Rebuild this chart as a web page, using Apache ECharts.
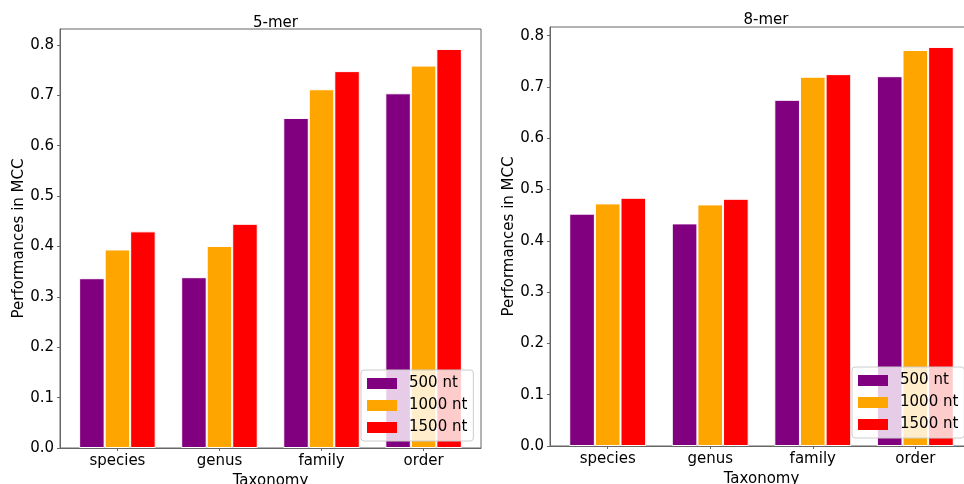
<!DOCTYPE html>
<html>
<head>
<meta charset="utf-8">
<script src="https://cdn.jsdelivr.net/npm/echarts@6/dist/echarts.min.js"></script>
<style>html,body{margin:0;padding:0;background:#fff;}#c{width:964px;height:484px;}</style>
</head>
<body>
<div id="c"></div>
<script>
const categories = ['species', 'genus', 'family', 'order'];
const seriesNames = ['500 nt', '1000 nt', '1500 nt'];
const colors = ['#800080', '#FFA500', '#FF0000'];
// 5-mer
const mer5_500 = [0.337, 0.339, 0.655, 0.704];
const mer5_1000 = [0.394, 0.401, 0.712, 0.759];
const mer5_1500 = [0.430, 0.445, 0.748, 0.792];
// 8-mer
const mer8_500 = [0.453, 0.434, 0.675, 0.721];
const mer8_1000 = [0.473, 0.471, 0.720, 0.772];
const mer8_1500 = [0.484, 0.482, 0.725, 0.778];
const yTicks = [0, 0.1, 0.2, 0.3, 0.4, 0.5, 0.6, 0.7, 0.8];
const xTicks = [0, 1, 2, 3];

const FONT = 'DejaVu Sans';
const mer5 = [mer5_500, mer5_1000, mer5_1500];
const mer8 = [mer8_500, mer8_1000, mer8_1500];
const max5 = Math.max(...mer5.flat()) * 1.05;
const max8 = Math.max(...mer8.flat()) * 1.05;

function xAxis(gi) {
  return {
    type: 'value', gridIndex: gi, min: -0.5625, max: 3.5625,
    name: 'Taxonomy', nameLocation: 'middle', nameGap: 22,
    nameTextStyle: {fontFamily: FONT, fontSize: 15, color: '#000', verticalAlign: 'top'},
    axisLine: {show: true, onZero: false, lineStyle: {color: '#666', width: 1}},
    axisTick: {show: true, length: 3, customValues: xTicks, lineStyle: {color: '#666'}},
    axisLabel: {customValues: xTicks, margin: 6, fontFamily: FONT, fontSize: 15, color: '#000',
      formatter: v => categories[Math.round(v)]},
    splitLine: {show: false}
  };
}
function yAxis(gi, max, gap) {
  return {
    type: 'value', gridIndex: gi, min: 0, max: max,
    name: 'Performances in MCC', nameLocation: 'middle', nameGap: gap, nameRotate: 90,
    nameTextStyle: {fontFamily: FONT, fontSize: 15, color: '#000'},
    axisLine: {show: true, onZero: false, lineStyle: {color: '#666', width: 1}},
    axisTick: {show: true, length: 3, customValues: yTicks, lineStyle: {color: '#666'}},
    axisLabel: {customValues: yTicks, margin: 6, fontFamily: FONT, fontSize: 15, color: '#000',
      formatter: v => v.toFixed(1)},
    splitLine: {show: false}
  };
}
function bars(data, gi) {
  return data.map((vals, i) => ({
    type: 'bar', name: seriesNames[i], xAxisIndex: gi, yAxisIndex: gi,
    data: vals.map((v, k) => [xTicks[k], v]),
    barWidth: '25%', barGap: '0%',
    itemStyle: {color: colors[i], borderColor: '#fff', borderWidth: 1},
    emphasis: {disabled: true}
  }));
}
function legend(left, top) {
  return {
    show: true, orient: 'vertical', left: left, top: top,
    data: seriesNames, itemWidth: 30, itemHeight: 11, itemGap: 7,
    padding: [6, 6, 6, 6], backgroundColor: 'rgba(255,255,255,0.8)',
    borderColor: '#ccc', borderWidth: 1, borderRadius: 3,
    icon: 'rect', selectedMode: false,
    itemStyle: {borderWidth: 0},
    textStyle: {fontFamily: FONT, fontSize: 15, color: '#000', lineHeight: 15, padding: [0, 0, 0, 7]}
  };
}

const chart = echarts.init(document.getElementById('c'), null, {renderer: 'canvas'});
chart.setOption({
  animation: false,
  backgroundColor: '#fff',
  title: [
    {text: '5-mer', left: 270.5, top: 11, textAlign: 'center',
      textStyle: {fontFamily: FONT, fontSize: 15, fontWeight: 'normal', color: '#000'}},
    {text: '8-mer', left: 761, top: 8, textAlign: 'center',
      textStyle: {fontFamily: FONT, fontSize: 15, fontWeight: 'normal', color: '#000'}}
  ],
  grid: [
    {left: 60, top: 29, width: 421, height: 419, outerBoundsMode: 'none', containLabel: false,
      show: true, borderColor: '#666', borderWidth: 1, backgroundColor: 'transparent'},
    {left: 550, top: 27, width: 423, height: 419, outerBoundsMode: 'none', containLabel: false,
      show: true, borderColor: '#666', borderWidth: 1, backgroundColor: 'transparent'}
  ],
  xAxis: [xAxis(0), xAxis(1)],
  yAxis: [yAxis(0, max5, 32), yAxis(1, max8, 33)],
  legend: [legend(361, 370), legend(852, 367)],
  series: [...bars(mer5, 0), ...bars(mer8, 1)]
});
</script>
</body>
</html>
